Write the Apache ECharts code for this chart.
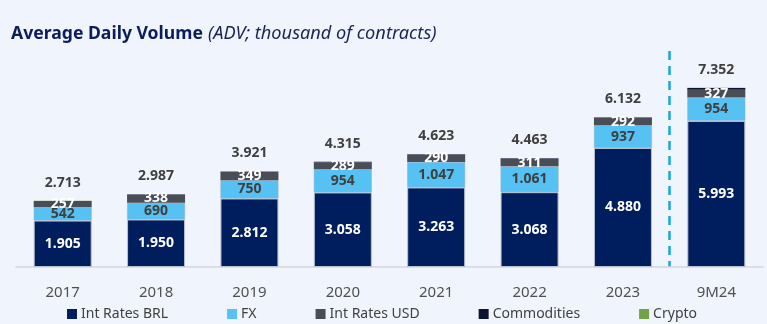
<!DOCTYPE html>
<html>
<head>
<meta charset="utf-8">
<script src="https://cdn.jsdelivr.net/npm/echarts@6/dist/echarts.min.js"></script>
<style>
  html, body { margin: 0; padding: 0; background: #F0F5FD; }
  #chart { width: 767px; height: 324px; }
</style>
</head>
<body>
<div id="chart"></div>
<script>
// Average daily volume by segment, thousand of contracts
const categories = ['2017', '2018', '2019', '2020', '2021', '2022', '2023', '9M24'];
const intRatesBRL = [1905, 1950, 2812, 3058, 3263, 3068, 4880, 5993];
const fx          = [542, 690, 750, 954, 1047, 1061, 937, 954];
const intRatesUSD = [257, 338, 349, 289, 290, 311, 292, 327];
const commodities = [8, 9, 10, 13, 20, 20, 20, 70];
const crypto      = [1, 0, 0, 1, 3, 3, 3, 8];
const totals      = [2713, 2987, 3921, 4315, 4623, 4463, 6132, 7352];

// Brazilian-style thousands separator: 1905 -> "1.905"
const fmt = v => String(v).replace(/\B(?=(\d{3})+(?!\d))/g, '.');

const FONT = 'Noto Sans';
const border = { borderColor: '#B9C1CF', borderWidth: 1 };

const labelBase = {
  show: true,
  position: 'inside',
  fontFamily: FONT,
  fontSize: 14,
  fontWeight: 'bold',
  textBorderWidth: 0
};

const chart = echarts.init(document.getElementById('chart'));
chart.setOption({
  backgroundColor: '#F0F5FD',
  animation: false,
  title: {
    left: 6,
    top: 20,
    text: '{b|Average Daily Volume} {i|(ADV; thousand of contracts)}',
    textStyle: {
      rich: {
        b: { fontFamily: FONT, fontSize: 17.6, fontWeight: 'bold', color: '#0D1D5A' },
        i: { fontFamily: FONT, fontSize: 18.2, fontWeight: 'normal', fontStyle: 'italic', color: '#1B2456' }
      }
    }
  },
  legend: {
    left: 62,
    top: 302,
    itemWidth: 10,
    itemHeight: 10,
    itemGap: 59,
    icon: 'rect',
    itemStyle: { borderWidth: 0 },
    textStyle: { fontFamily: FONT, fontSize: 14, color: '#404040', padding: [0, 0, 0, -1] },
    data: ['Int Rates BRL', 'FX', 'Int Rates USD', 'Commodities', 'Crypto']
  },
  grid: { left: 16, right: 4, top: 50, bottom: 57 },
  xAxis: {
    type: 'category',
    data: categories,
    axisTick: { show: false },
    axisLine: { lineStyle: { color: '#D2D6DE', width: 1.5 } },
    axisLabel: { fontFamily: FONT, fontSize: 15, color: '#505050', margin: 18 }
  },
  yAxis: {
    type: 'value',
    min: 0,
    max: 8900,
    show: false,
    splitLine: { show: false }
  },
  series: [
    {
      name: 'Int Rates BRL', type: 'bar', stack: 'adv', barWidth: 58,
      itemStyle: Object.assign({ color: '#001E5E' }, border),
      label: Object.assign({}, labelBase, { color: '#FFFFFF', formatter: p => fmt(p.value) }),
      data: intRatesBRL
    },
    {
      name: 'FX', type: 'bar', stack: 'adv',
      itemStyle: { color: '#56C1F3', borderColor: '#9FB4CC', borderWidth: 0.6 },
      label: Object.assign({}, labelBase, { color: '#3F3F3F', formatter: p => fmt(p.value) }),
      data: fx
    },
    {
      name: 'Int Rates USD', type: 'bar', stack: 'adv',
      itemStyle: { color: '#4A4D55' },
      label: Object.assign({}, labelBase, { color: '#FFFFFF', formatter: p => fmt(p.value) }),
      data: intRatesUSD
    },
    {
      name: 'Commodities', type: 'bar', stack: 'adv',
      itemStyle: { color: '#0B1430' },
      data: commodities
    },
    {
      name: 'Crypto', type: 'bar', stack: 'adv',
      itemStyle: { color: '#6FA444' },
      label: Object.assign({}, labelBase, {
        position: 'top', distance: 11, color: '#3F3F3F',
        formatter: p => fmt(totals[p.dataIndex])
      }),
      data: crypto
    }
  ]
});

// Dashed separator between the full years and the year-to-date period,
// placed halfway between the last two categories on the axis scale.
const pA = chart.convertToPixel({ gridIndex: 0 }, [categories[6], 0]);
const pB = chart.convertToPixel({ gridIndex: 0 }, [categories[7], 0]);
const pTop = chart.convertToPixel({ gridIndex: 0 }, [categories[7], 8900]);
const sepX = Math.round((pA[0] + pB[0]) / 2) - 0.5;
chart.setOption({
  graphic: [{
    type: 'line',
    silent: true,
    shape: { x1: sepX, y1: pTop[1] + 1, x2: sepX, y2: pA[1] },
    style: { stroke: '#13A8E2', lineWidth: 2.5, lineDash: [9, 6] }
  }]
});
</script>
</body>
</html>
